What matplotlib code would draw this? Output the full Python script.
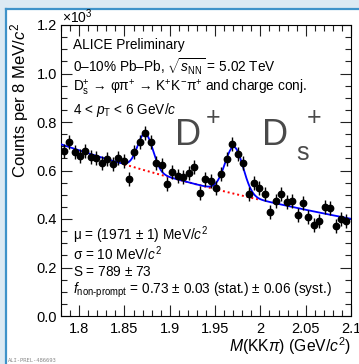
import numpy as np
import matplotlib
matplotlib.use("Agg")
import matplotlib.pyplot as plt
from matplotlib.patches import Rectangle
from matplotlib.lines import Line2D
from matplotlib.ticker import MultipleLocator

plt.rcParams['font.family'] = ['Liberation Sans', 'DejaVu Sans']
plt.rcParams['mathtext.fontset'] = 'custom'
plt.rcParams['mathtext.rm'] = 'Liberation Sans'
plt.rcParams['mathtext.it'] = 'Liberation Sans:italic'
plt.rcParams['mathtext.bf'] = 'Liberation Sans:bold'

# invariant mass bins (GeV/c^2) and counts (x10^3)
bin_first = 1.783
bin_step = 0.006
counts = [0.682, 0.716, 0.675, 0.661, 0.682, 0.657, 0.650, 0.630, 0.646, 0.627,
          0.650, 0.640, 0.565, 0.675, 0.719, 0.753, 0.716, 0.632, 0.623, 0.546,
          0.593, 0.577, 0.572, 0.589, 0.613, 0.509, 0.565, 0.557, 0.529, 0.584,
          0.646, 0.709, 0.667, 0.632, 0.502, 0.550, 0.529, 0.503, 0.428, 0.474,
          0.502, 0.471, 0.474, 0.418, 0.465, 0.407, 0.375, 0.392, 0.451, 0.444,
          0.372, 0.400, 0.392]
count_err = 0.029

# fit: exponential background + two gaussians
bkg_norm, bkg_slope, bkg_ref = 0.708, 1.778, 1.78
dplus_mean, dplus_sigma, dplus_amp = 1.873, 0.0085, 0.152
ds_mean, ds_sigma, ds_amp = 1.971, 0.010, 0.193
bkg_only_range = (1.85, 2.0)

xlim = (1.78, 2.1)
ylim = (0.0, 1.2)

masses = np.round(bin_first + bin_step * np.arange(len(counts)), 4)


def bkg(m):
    return bkg_norm * np.exp(-bkg_slope * (m - bkg_ref))


def total(m):
    g1 = dplus_amp * np.exp(-0.5 * ((m - dplus_mean) / dplus_sigma) ** 2)
    g2 = ds_amp * np.exp(-0.5 * ((m - ds_mean) / ds_sigma) ** 2)
    return bkg(m) + g1 + g2


W, H = 359, 364
fig = plt.figure(figsize=(W / 100, H / 100), dpi=100, facecolor='white')


def px(x, y):
    return x / W, 1 - y / H


# page decoration around the figure
fig.add_artist(Rectangle((0, 1 - 8 / H), 1, 8 / H, transform=fig.transFigure,
                         color='#dceaf3', lw=0, zorder=0))
fig.add_artist(Rectangle((0, 0), 5.5 / W, 1, transform=fig.transFigure,
                         color='#dceaf3', lw=0, zorder=0))
fig.add_artist(Line2D([6 / W, 1], [1 - 8.5 / H] * 2, transform=fig.transFigure,
                      color='#3f93c9', lw=1.6))
fig.add_artist(Line2D([6.3 / W] * 2, [0, 1 - 8.5 / H], transform=fig.transFigure,
                      color='#3f93c9', lw=1.6))

ax = fig.add_axes([61 / W, 1 - 316 / H, 290 / W, 291 / H])

mfine = np.linspace(xlim[0], xlim[1], 800)
ax.plot(mfine, total(mfine), color='#0000ff', lw=1.3, zorder=3)
mb = np.linspace(bkg_only_range[0], bkg_only_range[1], 200)
ax.plot(mb, bkg(mb), color='#ff0000', lw=1.4, ls=(0, (1, 1.5)), zorder=2)

ax.errorbar(masses, counts, yerr=count_err, fmt='o', color='black', ms=4.6,
            elinewidth=1.0, capsize=0, zorder=4)

ax.set_xlim(*xlim)
ax.set_ylim(*ylim)
ax.xaxis.set_minor_locator(MultipleLocator(0.01))
ax.yaxis.set_minor_locator(MultipleLocator(0.05))
ax.set_xticks([1.8, 1.85, 1.9, 1.95, 2.0, 2.05, 2.1])
ax.set_xticklabels(['1.8', '1.85', '1.9', '1.95', '2', '2.05', '2.1'])
ax.set_yticks([0.0, 0.2, 0.4, 0.6, 0.8, 1.0, 1.2])
ax.set_yticklabels(['0.0', '0.2', '0.4', '0.6', '0.8', '1.0', '1.2'])
ax.tick_params(which='both', direction='in', top=True, right=True, width=0.8,
               color='#222222')
ax.tick_params(which='major', length=8, labelsize=10.5)
ax.tick_params(which='minor', length=4)
ax.tick_params(axis='x', pad=4)
ax.tick_params(axis='y', pad=3)
for s in ax.spines.values():
    s.set_linewidth(0.8)

fig.text(*px(62, 23), r'$\times$10$^{3}$', fontsize=10, va='baseline', ha='left')
fig.text(*px(20, 22), r'Counts per 8 MeV/$c^2$', fontsize=12, rotation=90,
         ha='center', va='top')
fig.text(*px(351, 346), r'$M$(KK$\pi$) (GeV/$c^2$)', fontsize=11.3,
         ha='right', va='center')

top_lines = [
    'ALICE Preliminary',
    r'0–10% Pb–Pb, $\sqrt{s_{\mathrm{NN}}}$ = 5.02 TeV',
    r'D$_\mathrm{s}^{+}$ → φπ$^{+}$ → K$^{+}$K$^{-}$π$^{+}$ and charge conj.',
    r'4 < $p_{\mathrm{T}}$ < 6 GeV/$c$',
]
for i, t in enumerate(top_lines):
    fig.text(*px(73, 45 + 21.7 * i), t, fontsize=9.8, va='center', ha='left')

bottom_lines = [
    r'μ = (1971 $\pm$ 1) MeV/$c^2$',
    r'σ = 10 MeV/$c^2$',
    r'S = 789 $\pm$ 73',
    r'$f_{\mathrm{non\text{-}prompt}}$ = 0.73 $\pm$ 0.03 (stat.) $\pm$ 0.06 (syst.)',
]
for i, t in enumerate(bottom_lines):
    fig.text(*px(73, 235 + 18.5 * i), t, fontsize=9.8, va='center', ha='left')

big = '#4a4a4a'
fig.text(*px(175, 145), 'D', fontsize=26, color=big, va='baseline', ha='left')
fig.text(*px(213, 118), '+', fontsize=18, color=big, va='center', ha='center')
fig.text(*px(262, 145), 'D', fontsize=26, color=big, va='baseline', ha='left')
fig.text(*px(296, 160), 's', fontsize=18, color=big, va='baseline', ha='left')
fig.text(*px(314, 118), '+', fontsize=18, color=big, va='center', ha='center')

fig.text(*px(8, 360), 'ALI-PREL-486693', fontsize=4, color='#8a8a8a',
         family='DejaVu Sans Mono', va='center', ha='left')

fig.savefig('out.png', dpi=100)
